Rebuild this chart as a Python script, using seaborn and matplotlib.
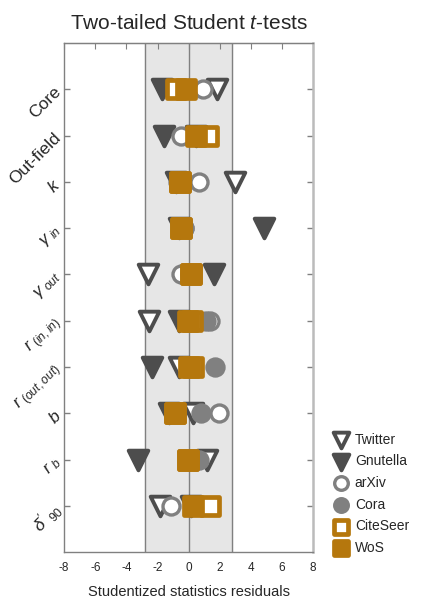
import matplotlib
matplotlib.use("Agg")
import matplotlib.pyplot as plt
import seaborn as sns
import numpy as np

# statistics (rows, top to bottom)
stats = ["Core", "Out-field", r"$k$", r"$\gamma_{\ in}$", r"$\gamma_{\ out}$",
         r"$r_{\ (in,in)}$", r"$r_{\ (out,out)}$", r"$b$", r"$r_{\ b}$", r"$\delta'_{\ 90}$"]

# studentized residuals per network
twitter = [1.80, 0.50, 3.00, -0.60, -2.60, -2.55, -0.60, 0.27, 1.20, -1.82]
gnutella = [-1.74, -1.56, -0.80, 4.86, 1.66, -0.60, -2.37, -1.24, -3.25, 0.15]
arxiv = [0.90, -0.50, 0.64, -0.30, -0.47, 1.40, 0.10, 1.98, 0.50, -1.13]
cora = [-0.20, 0.50, -0.70, -0.27, 0.10, 1.12, 1.70, 0.80, 0.68, 0.52]
citeseer = [-0.78, 1.26, -0.55, -0.50, 0.15, 0.19, 0.30, -0.90, -0.05, 1.38]
wos = [-0.20, 0.49, -0.58, -0.49, 0.15, -0.06, 0.05, -0.89, -0.06, 0.26]

crit = 2.8  # two-tailed critical value band

dark = "#4d4d4d"
grey = "#808080"
gold = "#b5770d"

series = [
    ("Twitter", twitter, "v", "white", dark, 200, 2.8),
    ("Gnutella", gnutella, "v", dark, dark, 200, 2.8),
    ("arXiv", arxiv, "o", "white", grey, 150, 2.4),
    ("Cora", cora, "o", grey, grey, 150, 2.4),
    ("CiteSeer", citeseer, "s", "white", gold, 150, 3.4),
    ("WoS", wos, "s", gold, gold, 150, 3.4),
]

sns.set_style("white")
plt.rcParams["font.family"] = ["Liberation Sans", "DejaVu Sans"]
plt.rcParams["mathtext.fontset"] = "custom"
plt.rcParams["mathtext.it"] = "Liberation Sans:italic"
plt.rcParams["mathtext.rm"] = "Liberation Sans"

fig = plt.figure(figsize=(4.22, 6.06), dpi=100)
ax = fig.add_axes([0.152, 0.089, 0.590, 0.840])

ypos = np.arange(1, len(stats) + 1)

ax.axvspan(-crit, crit, color="#e6e6e6", zorder=0)
for xv in (-crit, 0, crit):
    ax.axvline(xv, color=grey, lw=1.0, zorder=1)

for name, vals, mk, fc, ec, s, lw in series:
    sns.scatterplot(x=vals, y=ypos, marker=mk, s=s, facecolor=fc, edgecolor=ec,
                    linewidth=lw, joinstyle="round", label=name, ax=ax,
                    zorder=3, legend=False)

ax.set_xlim(-8, 8)
ax.set_ylim(len(stats) + 1, 0)
ax.set_xticks(np.arange(-8, 9, 2))
ax.set_xticklabels([str(v) for v in range(-8, 9, 2)], fontsize=8.5)
ax.set_yticks(ypos)
ax.set_yticklabels(stats, rotation=45, fontsize=12.5, ha="right", va="center",
                   rotation_mode="anchor")
ax.tick_params(axis="x", direction="out", length=3, color=grey, width=1, pad=4)
ax.tick_params(axis="y", direction="in", length=4, color=grey, width=1,
               left=True, right=True, pad=4)
top = ax.secondary_xaxis("top")
top.set_xticks(np.arange(-8, 9, 2))
top.tick_params(direction="in", length=4, color=grey, labeltop=False)
top.spines["top"].set_color(grey)

for side in ["left", "bottom", "top"]:
    ax.spines[side].set_color(grey)
    ax.spines[side].set_linewidth(1.0)
ax.spines["right"].set_color("#bbbbbb")
ax.spines["right"].set_linewidth(1.8)

ax.set_title(r"Two-tailed Student $t$-tests", fontsize=15, pad=10)
ax.set_xlabel("Studentized statistics residuals", fontsize=10.5, labelpad=8)

handles, labels = ax.get_legend_handles_labels()
fig.legend(handles, labels, loc="lower left", bbox_to_anchor=(0.775, 0.075),
           frameon=False, fontsize=10, handletextpad=0.4, labelspacing=0.55,
           borderaxespad=0, handlelength=1.2, markerscale=0.8)

fig.savefig("out.png", dpi=100)
